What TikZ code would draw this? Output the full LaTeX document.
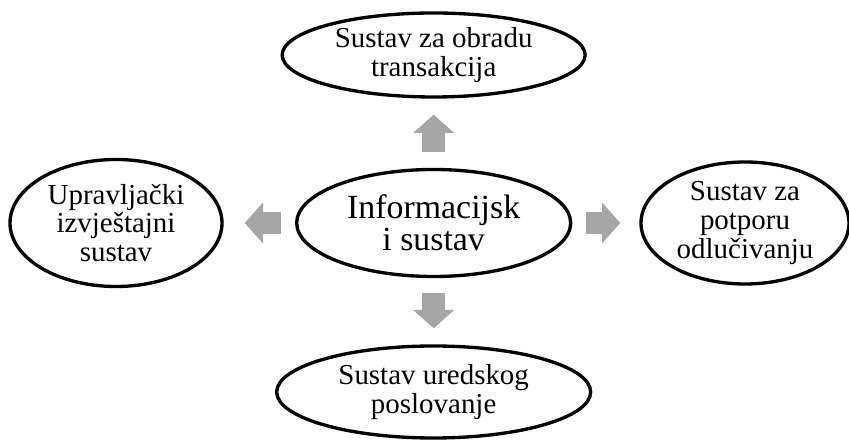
\documentclass[tikz,border=0pt]{standalone}
\usepackage{fontspec}
\setmainfont{Liberation Serif}
\usetikzlibrary{shapes.geometric,arrows.meta}
\definecolor{MGray}{HTML}{A6A6A6}

\begin{document}
\begin{tikzpicture}[
		sustav/.style={ellipse, draw=black, line width=1mm, inner sep=0pt, align=center, font=\fontsize{24.7}{24.5}\selectfont},
		strelica/.style={MGray, line width=7mm, -{Triangle[width=12mm,length=5.5mm]}}
	]
			\useasboundingbox (0,0) rectangle (25.47,13.23);
			
			\node[sustav, minimum width=8.22cm, minimum height=3.21cm, font=\fontsize{28.9}{27.5}\selectfont] (info) at (13.01,6.54) {Informacijsk\\i sustav};
			\node[sustav, minimum width=9.09cm, minimum height=2.52cm] (obrada) at (13.01,11.58) {Sustav za obradu\\transakcija};
			\node[sustav, minimum width=6.36cm, minimum height=3.81cm] (izvjestaj) at (3.48,6.54) {Upravljački\\izvještajni\\sustav};
			\node[sustav, minimum width=6.24cm, minimum height=3.66cm] (potpora) at (22.35,6.54) {Sustav za\\potporu\\odlučivanju};
			\node[sustav, minimum width=9.42cm, minimum height=2.76cm] (ured) at (13.01,1.47) {Sustav uredskog\\poslovanje};
			
			\draw[strelica, shorten <=4.6mm, shorten >=4.8mm] (info) -- (obrada);
			\draw[strelica, shorten <=4.6mm, shorten >=4.8mm] (info) -- (ured);
			
			\draw[strelica, line width=6.5mm, shorten <=4.2mm, shorten >=6.3mm] (info) -- (izvjestaj);
			\draw[strelica, line width=6.5mm, shorten <=4.2mm, shorten >=5.7mm] (info) -- (potpora);
			
		\end{tikzpicture}
\end{document}
